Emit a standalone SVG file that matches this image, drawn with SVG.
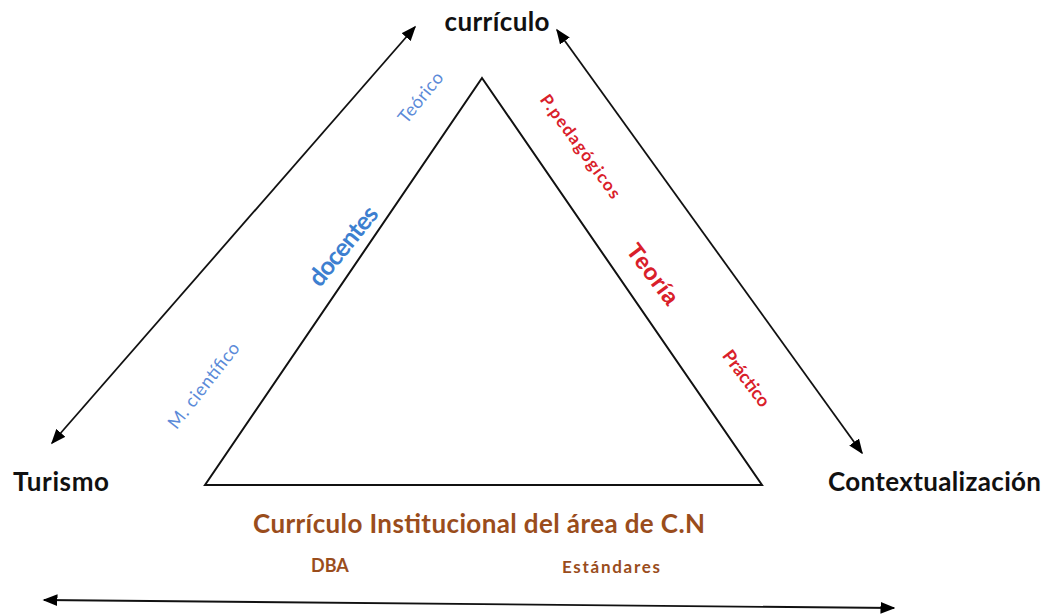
<svg xmlns="http://www.w3.org/2000/svg" width="1047" height="616" viewBox="0 0 1047 616">
<defs>
<marker id="ah" viewBox="0 0 10 10" refX="9" refY="5" markerWidth="15" markerHeight="12" markerUnits="userSpaceOnUse" orient="auto-start-reverse" preserveAspectRatio="none">
<path d="M0,0 L10,5 L0,10 z" fill="#000"/>
</marker>
<style>
.conn{stroke:#111;stroke-width:1.8;fill:none}
.lbl{font-family:Lato,"Open Sans","Liberation Sans",sans-serif;font-weight:bold;fill:#111;font-size:26px}
.blue{font-family:Lato,"Open Sans","Liberation Sans",sans-serif;fill:#5b8ad8}
.red{font-family:Lato,"Open Sans","Liberation Sans",sans-serif;fill:#d9202a}
.brown{font-family:Lato,"Open Sans","Liberation Sans",sans-serif;font-weight:bold;fill:#9a4d1c}
</style>
</defs>
<rect width="1047" height="616" fill="#fff"/>
<g id="connectors">
<line class="conn" x1="52" y1="443" x2="415" y2="27" marker-start="url(#ah)" marker-end="url(#ah)"/>
<line class="conn" x1="557" y1="30" x2="862" y2="453" marker-start="url(#ah)" marker-end="url(#ah)"/>
<line class="conn" x1="44" y1="600" x2="894" y2="608" marker-start="url(#ah)" marker-end="url(#ah)"/>
</g>
<g id="triangle">
<polygon points="482,78 762,485 205,485" fill="none" stroke="#111" stroke-width="2"/>
</g>
<g id="curriculo"><text class="lbl" x="497" y="31" text-anchor="middle" textLength="105">currículo</text></g>
<g id="turismo"><text class="lbl" x="13" y="491" textLength="96">Turismo</text></g>
<g id="contextualizacion"><text class="lbl" x="828" y="491" textLength="213">Contextualización</text></g>
<g id="teorico"><text class="blue" font-size="18" text-anchor="middle" dominant-baseline="central" transform="translate(420,97) rotate(-51)" textLength="60">Teórico</text></g>
<g id="docentes"><text class="blue" font-size="25" font-weight="bold" style="fill:#3d7fd0" text-anchor="middle" dominant-baseline="central" transform="translate(342,245) rotate(-51)" textLength="95">docentes</text></g>
<g id="mcientifico"><text class="blue" font-size="18" text-anchor="middle" dominant-baseline="central" transform="translate(203,385) rotate(-52)" textLength="104">M. científico</text></g>
<g id="ppedagogicos"><text class="red" font-size="17" font-weight="bold" text-anchor="middle" dominant-baseline="central" transform="translate(581,146) rotate(54)" textLength="124">P.pedagógicos</text></g>
<g id="teoria"><text class="red" font-size="23" font-weight="bold" style="font-family:'Liberation Sans',sans-serif" text-anchor="middle" dominant-baseline="central" transform="translate(653,274) rotate(53)" textLength="70">Teoría</text></g>
<g id="practico"><text class="red" font-size="18" font-weight="bold" text-anchor="middle" dominant-baseline="central" transform="translate(747,378) rotate(53)" textLength="66">Práctico</text></g>
<g id="curriculo-inst"><text class="brown" font-size="26" x="253" y="533" textLength="452">Currículo Institucional del área de C.N</text></g>
<g id="dba"><text class="brown" font-size="18" x="311" y="572">DBA</text></g>
<g id="estandares"><text class="brown" font-size="17" x="562" y="573" textLength="98">Estándares</text></g>
</svg>
